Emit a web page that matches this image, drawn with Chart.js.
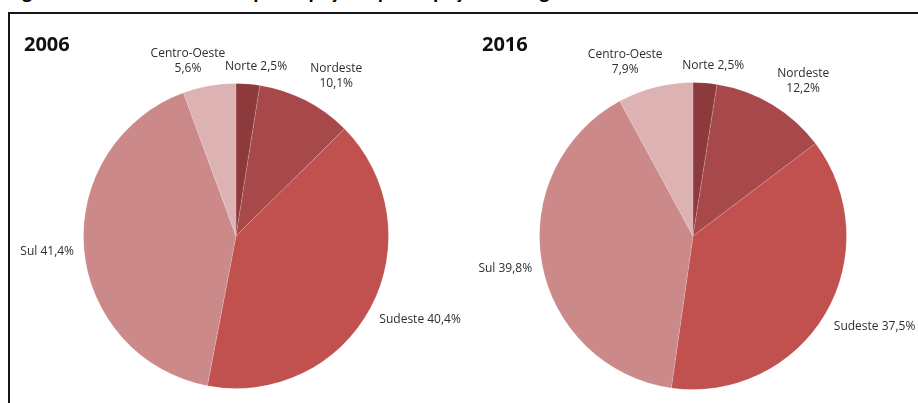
<!DOCTYPE html>
<html>
<head>
<meta charset="utf-8">
<script src="https://cdn.jsdelivr.net/npm/chart.js@4/dist/chart.umd.min.js"></script>
<style>
html,body{margin:0;padding:0;background:#fff;}
body{width:918px;height:403px;position:relative;overflow:hidden;font-family:'Open Sans',sans-serif;}
.fig{position:absolute;left:8px;top:-20px;font:bold 17px/23px 'Open Sans';white-space:nowrap;color:#000;}
.frame{position:absolute;left:8px;top:12px;width:960px;height:440px;border-top:2px solid #151515;border-left:2px solid #151515;background:#fff;}
.yr{position:absolute;top:30px;font:bold 20px 'Open Sans';color:#111;}
.box{position:absolute;top:0;height:403px;}
</style>
</head>
<body>
<div class="fig">Figura 2 – Área colhida total: participação e participação das regiões</div>
<div class="frame"></div>
<div class="box" style="left:459px;width:459px"><canvas id="ch_2016"></canvas></div>
<div class="box" style="left:0;width:490px"><canvas id="ch_2006"></canvas></div>
<div class="yr" id="t0" style="left:24px"></div>
<div class="yr" id="t1" style="left:482px"></div>
<script>
'use strict';

/* ── dados ── */
const REGIOES   = ['Norte','Nordeste','Sudeste','Sul','Centro-Oeste'];
const PART_2006 = [2.5, 10.1, 40.4, 41.4, 5.6];
const PART_2016 = [2.5, 12.2, 37.5, 39.8, 7.9];
const ANOS      = ['2006','2016'];

/* ── estilo ── */
const CORES  = ['#8d3a3d','#a7494a','#c0514e','#cc898a','#dcb2b3'];
const QUEBRA = ['Nordeste','Centro-Oeste'];   // rótulos em duas linhas
const GAP = 10, LH = 15;

const fmt = v => v.toFixed(1).replace('.', ',') + '%';

/* ── rótulos fora da pizza ── */
const rotulos = {
  id:'rotulos',
  afterDatasetsDraw(chart){
    const ctx = chart.ctx, ds = chart.data.datasets[0];
    ctx.save();
    ctx.font = '12px "Open Sans"';
    ctx.fillStyle = '#2e2e2e';
    ctx.textAlign = 'center';
    ctx.textBaseline = 'middle';
    chart.getDatasetMeta(0).data.forEach((arc, i) => {
      const p = arc.getProps(['x','y','startAngle','endAngle','outerRadius'], true);
      const a = (p.startAngle + p.endAngle) / 2;
      const dx = Math.cos(a), dy = Math.sin(a);
      const px = p.x + dx*(p.outerRadius + GAP), py = p.y + dy*(p.outerRadius + GAP);
      const nome = chart.data.labels[i], val = fmt(ds.data[i]);
      const linhas = QUEBRA.includes(nome) ? [nome, val] : [nome + ' ' + val];
      const w = Math.max(...linhas.map(l => ctx.measureText(l).width));
      const h = linhas.length * LH;
      const sx = Math.max(-1, Math.min(1, dx*3)), sy = Math.max(-1, Math.min(1, dy*3));
      const left = px - w*(0.5 - 0.5*sx), top = py - h*(0.5 - 0.5*sy);
      linhas.forEach((l, k) => ctx.fillText(l, left + w/2, top + LH*k + LH/2));
    });
    ctx.restore();
  }
};

function pizza(id, valores, pad){
  new Chart(document.getElementById(id), {
    type:'pie',
    data:{ labels:REGIOES, datasets:[{ data:valores, backgroundColor:CORES,
      borderColor:'rgba(255,255,255,.15)', borderWidth:1 }] },
    options:{
      responsive:true, maintainAspectRatio:false, animation:false,
      events:[],
      layout:{ padding:pad },
      plugins:{ legend:{display:false}, tooltip:{enabled:false} }
    },
    plugins:[rotulos]
  });
}

document.getElementById('t0').textContent = ANOS[0];
document.getElementById('t1').textContent = ANOS[1];
pizza('ch_2006', PART_2006, {left:83, right:101, top:83, bottom:14});
pizza('ch_2016', PART_2016, {left:80, right:71, top:82, bottom:13});
</script>
</body>
</html>
